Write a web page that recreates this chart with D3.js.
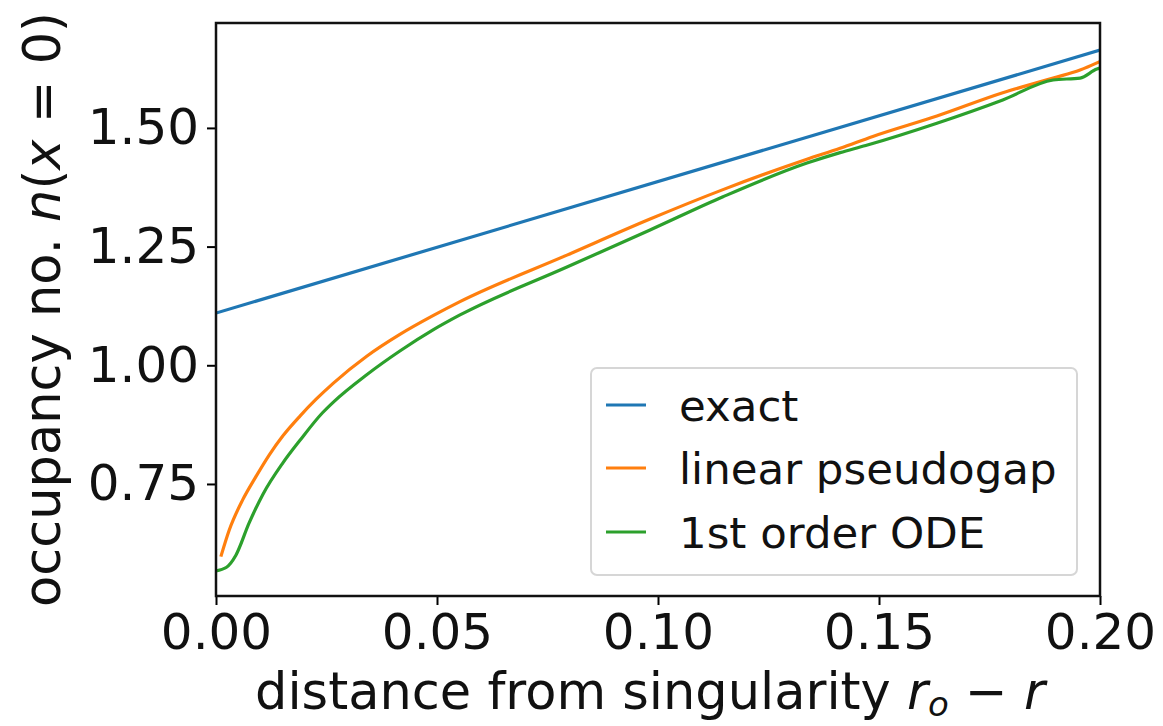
<!DOCTYPE html>
<html>
<head>
<meta charset="utf-8">
<script src="https://cdn.jsdelivr.net/npm/d3@7"></script>
<style>
  html, body { margin: 0; padding: 0; background: #fff; }
  svg { display: block; font-family: "DejaVu Sans", sans-serif; }
</style>
</head>
<body>
<svg id="chart" width="1163" height="726"></svg>
<script>
// ---- data ----
const seriesNames = ["exact", "linear pseudogap", "1st order ODE"];
const seriesColors = ["#1f77b4", "#ff7f0e", "#2ca02c"];

const exactX = [0.0, 0.2];
const exactY = [1.110, 1.664];

const pseudogapX = [0.0011, 0.003, 0.006, 0.009, 0.0121, 0.0151, 0.019, 0.0226, 0.0265, 0.0341, 0.0416, 0.0492, 0.0552, 0.0794, 0.0982, 0.1147, 0.1337, 0.1412, 0.1486, 0.1631, 0.178, 0.1894, 0.1955, 0.1993, 0.2];
const pseudogapY = [0.597, 0.653, 0.716, 0.765, 0.812, 0.851, 0.893, 0.928, 0.962, 1.019, 1.065, 1.105, 1.134, 1.232, 1.308, 1.370, 1.434, 1.457, 1.482, 1.525, 1.574, 1.605, 1.622, 1.637, 1.640];

const odeX = [0.0, 0.0023, 0.0045, 0.0075, 0.0106, 0.0151, 0.019, 0.0241, 0.0265, 0.0341, 0.0416, 0.0492, 0.0552, 0.0794, 0.0982, 0.1147, 0.1337, 0.1412, 0.147, 0.1631, 0.178, 0.1894, 0.1955, 0.1993, 0.2];
const odeY = [0.567, 0.574, 0.600, 0.668, 0.728, 0.794, 0.842, 0.900, 0.922, 0.980, 1.030, 1.075, 1.106, 1.207, 1.285, 1.355, 1.426, 1.448, 1.463, 1.510, 1.559, 1.601, 1.605, 1.624, 1.626];

const xTicks = [0.00, 0.05, 0.10, 0.15, 0.20];
const yTicks = [0.75, 1.00, 1.25, 1.50];
const xDomain = [0, 0.2];
const yDomain = [0.514, 1.721];

// ---- layout ----
const svg = d3.select("#chart");
const plot = { left: 216, right: 1100, top: 23, bottom: 596 };

const x = d3.scaleLinear().domain(xDomain).range([plot.left, plot.right]);
const y = d3.scaleLinear().domain(yDomain).range([plot.bottom, plot.top]);

const series = [
  { name: seriesNames[0], color: seriesColors[0], pts: exactX.map((v, i) => [v, exactY[i]]) },
  { name: seriesNames[1], color: seriesColors[1], pts: pseudogapX.map((v, i) => [v, pseudogapY[i]]) },
  { name: seriesNames[2], color: seriesColors[2], pts: odeX.map((v, i) => [v, odeY[i]]) }
];

const line = d3.line().x(d => x(d[0])).y(d => y(d[1])).curve(d3.curveMonotoneX);

svg.append("clipPath").attr("id", "clip").append("rect")
  .attr("x", plot.left).attr("y", plot.top)
  .attr("width", plot.right - plot.left).attr("height", plot.bottom - plot.top);

const g = svg.append("g").attr("clip-path", "url(#clip)");
series.forEach(s => {
  g.append("path").datum(s.pts)
    .attr("fill", "none").attr("stroke", s.color)
    .attr("stroke-width", 3.2).attr("stroke-linejoin", "round")
    .attr("d", line);
});

// ---- axes ----
const xAxis = d3.axisBottom(x).tickValues(xTicks).tickFormat(d3.format(".2f")).tickSize(9).tickPadding(8);
const yAxis = d3.axisLeft(y).tickValues(yTicks).tickFormat(d3.format(".2f")).tickSize(9).tickPadding(8);

const gx = svg.append("g").attr("transform", `translate(0,${plot.bottom})`).call(xAxis);
const gy = svg.append("g").attr("transform", `translate(${plot.left},0)`).call(yAxis);
[gx, gy].forEach(a => {
  a.select(".domain").remove();
  a.selectAll(".tick line").attr("stroke", "#000").attr("stroke-width", 2);
  a.selectAll(".tick text").attr("fill", "#111").style("font-size", "50px")
    .style("font-family", "'DejaVu Sans', sans-serif");
});

// frame
svg.append("rect")
  .attr("x", plot.left).attr("y", plot.top)
  .attr("width", plot.right - plot.left).attr("height", plot.bottom - plot.top)
  .attr("fill", "none").attr("stroke", "#111").attr("stroke-width", 2.5);

// ---- axis labels ----
const xl = svg.append("text")
  .attr("x", 650).attr("y", 709)
  .attr("text-anchor", "middle").style("font-size", "51px").attr("fill", "#111");
xl.append("tspan").text("distance from singularity ");
xl.append("tspan").attr("font-style", "italic").text("r");
xl.append("tspan").attr("font-style", "italic").attr("dy", 7).style("font-size", "34px").text("o");
xl.append("tspan").attr("dy", -7).text(" − ");
xl.append("tspan").attr("font-style", "italic").text("r");

const yl = svg.append("text")
  .attr("transform", `translate(60,${(plot.top + plot.bottom) / 2}) rotate(-90)`)
  .attr("text-anchor", "middle").style("font-size", "51px").attr("fill", "#111");
yl.append("tspan").text("occupancy no. ");
yl.append("tspan").attr("font-style", "italic").text("n");
yl.append("tspan").text("(");
yl.append("tspan").attr("font-style", "italic").text("x");
yl.append("tspan").text(" = 0)");

// ---- legend ----
const lg = svg.append("g");
lg.append("rect")
  .attr("x", 591).attr("y", 368).attr("width", 486).attr("height", 207)
  .attr("rx", 6).attr("ry", 6)
  .attr("fill", "#fff").attr("fill-opacity", 0.8)
  .attr("stroke", "#d6d6d6").attr("stroke-width", 2);

const rowY = [405, 468, 532];
series.forEach((s, i) => {
  lg.append("line")
    .attr("x1", 606).attr("x2", 646)
    .attr("y1", rowY[i]).attr("y2", rowY[i])
    .attr("stroke", s.color).attr("stroke-width", 3);
  lg.append("text")
    .attr("x", 679).attr("y", rowY[i]).attr("dy", "0.36em")
    .style("font-size", "43.5px").attr("fill", "#111")
    .text(s.name);
});
</script>
</body>
</html>
